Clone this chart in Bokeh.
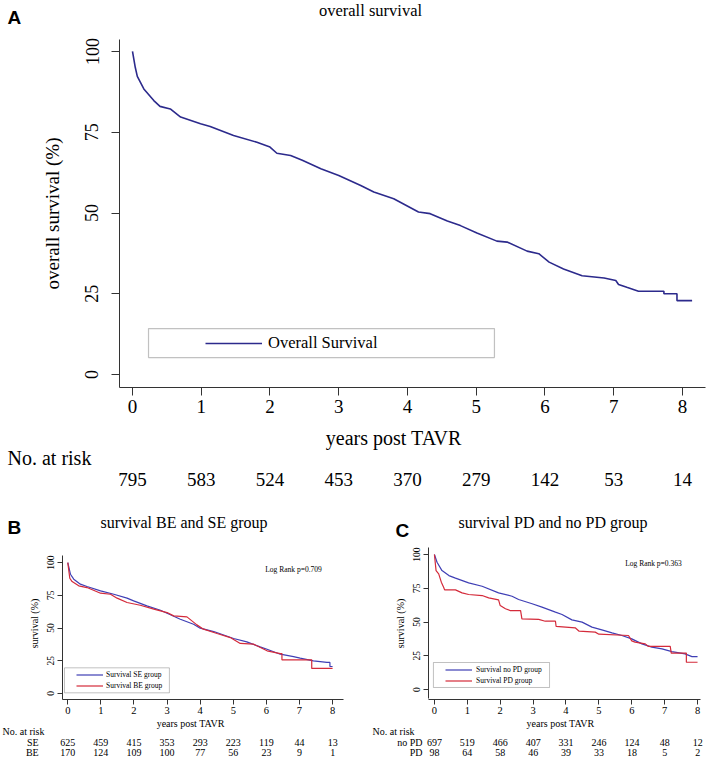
from bokeh.plotting import figure
from bokeh.layouts import column, row
from bokeh.models import Range1d, FixedTicker, Label, BoxAnnotation, Legend, LegendItem
from bokeh.core.properties import value
from bokeh.embed import file_html
from bokeh.resources import INLINE

SERIF = "Liberation Serif"
SANS = "Liberation Sans"

# ---------------- data ----------------
year_ticks = [0, 1, 2, 3, 4, 5, 6, 7, 8]
surv_ticks = [0, 25, 50, 75, 100]

# Panel A: overall survival (Kaplan-Meier, %)
os_t = [0, 0.04, 0.07, 0.165, 0.31, 0.40, 0.55, 0.70, 0.99, 1.13, 1.47, 1.81, 2.0, 2.10,
        2.30, 2.47, 2.74, 3.0, 3.32, 3.51, 3.80, 4.16, 4.33, 4.58, 4.77, 5.01, 5.30, 5.45,
        5.74, 5.91, 6.06, 6.27, 6.54, 6.86, 7.03, 7.07, 7.19, 7.36, 7.73, 7.73, 7.92, 7.92, 8.14]
os_s = [100, 95.1, 92.3, 88.4, 84.8, 83.0, 82.2, 79.7, 77.6, 76.8, 74.0, 71.9, 70.4, 68.5,
        67.8, 66.3, 63.7, 61.6, 58.5, 56.5, 54.4, 50.3, 49.8, 47.5, 46.1, 43.8, 41.3, 41.0,
        38.2, 37.4, 34.8, 32.7, 30.6, 29.9, 29.1, 27.9, 27.0, 25.8, 25.8, 25.0, 25.0, 22.9, 22.9]
risk_all = [795, 583, 524, 453, 370, 279, 142, 53, 14]

# Panel B: SE vs BE
se_t = [0, 0.08, 0.18, 0.38, 0.58, 0.99, 1.39, 1.79, 1.99, 2.39, 2.80, 3.0, 3.40, 3.80, 4.0,
        4.41, 5.01, 5.41, 5.81, 6.02, 6.42, 6.82, 7.02, 7.42, 7.83, 7.92, 7.92, 8.0]
se_s = [100, 91.1, 87.3, 83.5, 81.7, 78.4, 75.8, 72.8, 70.7, 66.9, 63.6, 61.3, 56.7, 52.9, 49.9,
        47.3, 42.0, 39.4, 35.6, 33.8, 30.0, 28.2, 27.0, 24.9, 23.7, 23.7, 20.6, 20.6]
be_t = [0, 0.06, 0.13, 0.33, 0.58, 0.99, 1.29, 1.49, 1.79, 2.19, 2.60, 3.0, 3.2, 3.6, 3.9,
        4.1, 4.51, 4.91, 5.21, 5.61, 6.02, 6.42, 6.47, 6.47, 7.37, 7.37, 8.0]
be_s = [100, 88.0, 85.5, 82.2, 80.9, 76.6, 75.8, 72.8, 69.5, 67.4, 64.4, 61.8, 59.3, 58.5, 52.4,
        49.1, 45.8, 42.7, 38.2, 37.7, 32.6, 30.5, 30.5, 25.7, 25.7, 19.1, 19.1]
risk_se = [625, 459, 415, 353, 293, 223, 119, 44, 13]
risk_be = [170, 124, 109, 100, 77, 56, 23, 9, 1]

# Panel C: no PD vs PD
nopd_t = [0, 0.08, 0.23, 0.44, 0.64, 1.04, 1.45, 1.95, 2.36, 2.56, 2.97, 3.27, 3.68, 3.88,
          4.18, 4.49, 4.79, 5.09, 5.40, 5.70, 6.0, 6.31, 6.61, 6.92, 7.22, 7.62, 7.83, 8.0]
nopd_s = [100, 94.3, 88.1, 84.4, 82.5, 79.0, 76.5, 71.6, 69.1, 66.7, 63.5, 61.0, 57.3, 55.6,
          51.6, 49.9, 46.2, 44.2, 42.0, 40.0, 37.5, 33.8, 31.4, 30.1, 28.1, 26.4, 24.4, 24.4]
pd_t = [0, 0.05, 0.13, 0.21, 0.28, 0.31, 0.64, 0.84, 1.04, 1.45, 1.65, 1.95, 2.0, 2.16, 2.3,
        2.62, 2.66, 3.17, 3.37, 3.68, 3.70, 4.28, 4.40, 4.89, 5.0, 5.9, 6.0, 6.1, 6.41, 6.51,
        7.17, 7.20, 7.66, 7.66, 8.0]
pd_s = [100, 88.1, 85.7, 79.5, 75.8, 73.8, 73.8, 71.6, 70.4, 69.6, 67.9, 66.4, 62.2, 59.8, 58.5,
        58.5, 52.3, 51.9, 50.6, 50.6, 46.7, 45.7, 43.2, 42.5, 41.0, 40.0, 36.0, 35.1, 33.8, 31.9,
        31.9, 27.0, 27.0, 20.2, 20.2]
risk_nopd = [697, 519, 466, 407, 331, 246, 124, 48, 12]
risk_pd = [98, 64, 58, 46, 39, 33, 18, 5, 2]

NAVY = "#2c2a8c"
BLUE = "#3f3fb5"
RED = "#d42a3a"
AXIS = "#333333"


def style_axes(p, tick_out, xfont, yfont, xstand, ystand, ylabel, ylabel_font, ylabel_stand, ybounds):
    p.outline_line_color = None
    p.grid.visible = False
    for ax in p.xaxis:
        ax.ticker = FixedTicker(ticks=year_ticks)
        ax.major_label_text_font = SERIF
        ax.major_label_text_font_size = xfont
        ax.major_label_standoff = xstand
    for ax in p.yaxis:
        ax.ticker = FixedTicker(ticks=surv_ticks)
        ax.bounds = ybounds
        ax.major_label_text_font = SERIF
        ax.major_label_text_font_size = yfont
        ax.major_label_standoff = ystand
        ax.major_label_orientation = "vertical"
        ax.axis_label = ylabel
        ax.axis_label_text_font = SERIF
        ax.axis_label_text_font_size = ylabel_font
        ax.axis_label_text_font_style = "normal"
        ax.axis_label_text_color = "black"
        ax.axis_label_standoff = ylabel_stand
    for ax in p.axis:
        ax.axis_line_color = AXIS
        ax.major_tick_line_color = AXIS
        ax.major_tick_out = tick_out
        ax.major_tick_in = 0
        ax.minor_tick_line_color = None
        ax.major_label_text_color = "black"


def text_fig(width, height, xr):
    r = figure(width=width, height=height, x_range=Range1d(*xr), y_range=Range1d(height, 0),
               output_backend="svg", toolbar_location=None,
               x_axis_location=None, y_axis_location=None,
               min_border=0, min_border_left=0, min_border_right=0,
               min_border_top=0, min_border_bottom=0)
    r.outline_line_color = None
    r.grid.visible = False
    return r


def txt(f, x, y, s, size, align="left", font=SERIF, style="normal"):
    f.text(x=x, y=y, text=s, text_font=value(font), text_font_size=size, text_color="black",
           text_font_style=style, text_align=align, text_baseline="middle")


# ---------------- Panel A ----------------
hA = text_fig(711, 36, (0, 711))
txt(hA, [7], [17], ["A"], "19px", font=SANS, style="bold")
txt(hA, [370], [10], ["overall survival"], "16.5px", align="center")

pA = figure(width=711, height=389, x_range=Range1d(-0.189, 8.335), y_range=Range1d(-4.0, 103.7),
            output_backend="svg", toolbar_location=None,
            min_border_left=119, min_border_right=6, min_border_top=3, min_border_bottom=38)
style_axes(pA, 8, "19px", "18px", 4, 13, "overall survival (%)", "19px", 20, (-4.0, 103.7))
lnA = pA.line(os_t, os_s, line_color=NAVY, line_width=1.6)
pA.add_layout(BoxAnnotation(left=0.233, right=5.265, bottom=5.26, top=14.24,
                            fill_color="white", fill_alpha=1, line_color=AXIS, line_width=1.2))
pA.add_layout(Legend(items=[LegendItem(label="Overall Survival", renderers=[lnA])],
                     location=(86, 34), padding=0, margin=0, spacing=0,
                     glyph_width=57, glyph_height=20, label_height=20, label_standoff=6,
                     border_line_color=None, background_fill_alpha=0,
                     label_text_font=SERIF, label_text_font_size="16.5px",
                     label_text_color="black"))

rA = text_fig(711, 80, (-1.92, 8.422))
txt(rA, [3.80], [12], ["years post TAVR"], "20px", align="center")
txt(rA, [-1.818], [32], ["No. at risk"], "20px")
txt(rA, year_ticks, [54] * 9, [str(v) for v in risk_all], "19px", align="center")

# ---------------- Panel B ----------------
hB = text_fig(355, 40, (0, 355))
txt(hB, [7], [22], ["B"], "19px", font=SANS, style="bold")
txt(hB, [100], [17], ["survival BE and SE group"], "16px")

pB = figure(width=355, height=172, x_range=Range1d(-0.16, 8.33), y_range=Range1d(-4.6, 111.5),
            output_backend="svg", toolbar_location=None,
            min_border_left=62, min_border_right=12, min_border_top=2, min_border_bottom=18)
style_axes(pB, 5, "10.5px", "9.5px", 2, 3, "survival (%)", "10px", 5, (-4.6, 105.3))
lnSE = pB.line(se_t, se_s, line_color=BLUE, line_width=1.2)
lnBE = pB.line(be_t, be_s, line_color=RED, line_width=1.2)
pB.add_layout(BoxAnnotation(left=-0.10, right=3.07, bottom=0.5, top=19.6,
                            fill_color="white", fill_alpha=1, line_color=AXIS, line_width=1))
pB.add_layout(Legend(items=[LegendItem(label="Survival SE group", renderers=[lnSE]),
                            LegendItem(label="Survival BE group", renderers=[lnBE])],
                     location=(14, 8.5), padding=0, margin=0, spacing=0,
                     glyph_width=27, glyph_height=11, label_height=11, label_standoff=3,
                     border_line_color=None, background_fill_alpha=0,
                     label_text_font=SERIF, label_text_font_size="7.5px",
                     label_text_color="black"))
pB.add_layout(Label(x=6.82, y=94.4, text="Log Rank p=0.709", text_font=SERIF, text_color="black",
                    text_font_size="7.5px", text_align="center", text_baseline="middle"))

rB = text_fig(355, 41, (-2.03, 8.69))
txt(rB, [3.71], [5.5], ["years post TAVR"], "10px", align="center")
txt(rB, [-1.97], [14], ["No. at risk"], "10px")
txt(rB, [-0.876, -0.876], [25, 35], ["SE", "BE"], "10px", align="right")
txt(rB, year_ticks, [25] * 9, [str(v) for v in risk_se], "10px", align="center")
txt(rB, year_ticks, [35] * 9, [str(v) for v in risk_be], "10px", align="center")

# ---------------- Panel C ----------------
hC = text_fig(356, 40, (0, 356))
txt(hC, [40], [25], ["C"], "19px", font=SANS, style="bold")
txt(hC, [103], [17], ["survival PD and no PD group"], "16px")

pC = figure(width=356, height=172, x_range=Range1d(-0.18, 8.09), y_range=Range1d(-7.4, 105.2),
            output_backend="svg", toolbar_location=None,
            min_border_left=73, min_border_right=11, min_border_top=2, min_border_bottom=18)
style_axes(pC, 5, "10.5px", "9.5px", 2, 3, "survival (%)", "10px", 5, (-6.7, 105.2))
lnNo = pC.line(nopd_t, nopd_s, line_color=BLUE, line_width=1.2)
lnPD = pC.line(pd_t, pd_s, line_color=RED, line_width=1.2)
pC.add_layout(BoxAnnotation(left=-0.03, right=3.50, bottom=1.5, top=20.0,
                            fill_color="white", fill_alpha=1, line_color=AXIS, line_width=1))
pC.add_layout(Legend(items=[LegendItem(label="Survival no PD group", renderers=[lnNo]),
                            LegendItem(label="Survival PD group", renderers=[lnPD])],
                     location=(17, 13.5), padding=0, margin=0, spacing=0,
                     glyph_width=27, glyph_height=11, label_height=11, label_standoff=4,
                     border_line_color=None, background_fill_alpha=0,
                     label_text_font=SERIF, label_text_font_size="7.5px",
                     label_text_color="black"))
pC.add_layout(Label(x=6.66, y=93.3, text="Log Rank p=0.363", text_font=SERIF, text_color="black",
                    text_font_size="7.5px", text_align="center", text_baseline="middle"))

rC = text_fig(356, 41, (-2.40, 8.42))
txt(rC, [3.83], [5.5], ["years post TAVR"], "10px", align="center")
txt(rC, [-1.88], [14], ["No. at risk"], "10px")
txt(rC, [-0.365, -0.365], [25, 35], ["no PD", "PD"], "10px", align="right")
txt(rC, year_ticks, [25] * 9, [str(v) for v in risk_nopd], "10px", align="center")
txt(rC, year_ticks, [35] * 9, [str(v) for v in risk_pd], "10px", align="center")

layout = column(row(hA), row(pA), row(rA), row(hB, hC), row(pB, pC), row(rB, rC), spacing=0)

open("out.html", "w").write(file_html(layout, INLINE))
